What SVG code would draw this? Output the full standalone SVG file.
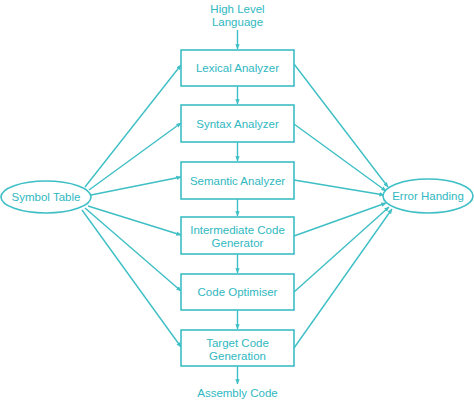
<svg xmlns="http://www.w3.org/2000/svg" width="474" height="400" viewBox="0 0 474 400">
<defs>
<style>
.box{fill:#fff;stroke:#3dbfc5;stroke-width:1.6}
.el{fill:#fff;stroke:#3dbfc5;stroke-width:1.6}
.t{font-family:"Liberation Sans",Arial,sans-serif;font-size:11.5px;fill:#2fb8bf;text-anchor:middle}
.c{stroke:#3dbfc5;stroke-width:1.4;fill:none;marker-end:url(#ah)}
</style>
<marker id="ah" viewBox="0 0 8 8" refX="7.5" refY="4" markerWidth="5" markerHeight="5" orient="auto" markerUnits="userSpaceOnUse">
<path d="M0,0.5 L8,4 L0,7.5 z" fill="#3dbfc5"/>
</marker>
</defs>
<rect width="474" height="400" fill="#fff"/>
<g id="connectors">
<line class="c" x1="237.5" y1="30" x2="237.5" y2="49"/>
<line class="c" x1="237.5" y1="86" x2="237.5" y2="104"/>
<line class="c" x1="237.5" y1="142" x2="237.5" y2="161"/>
<line class="c" x1="237.5" y1="199" x2="237.5" y2="216"/>
<line class="c" x1="237.5" y1="254" x2="237.5" y2="273"/>
<line class="c" x1="237.5" y1="310" x2="237.5" y2="329"/>
<line class="c" x1="237.5" y1="366" x2="237.5" y2="384"/>
<line class="c" x1="85" y1="187" x2="181" y2="65"/>
<line class="c" x1="89" y1="190" x2="181" y2="123"/>
<line class="c" x1="91" y1="195" x2="181" y2="177"/>
<line class="c" x1="88" y1="206" x2="181" y2="235"/>
<line class="c" x1="85" y1="208" x2="181" y2="291"/>
<line class="c" x1="82" y1="210" x2="181" y2="347"/>
<line class="c" x1="294" y1="64" x2="388" y2="187"/>
<line class="c" x1="294" y1="124" x2="386" y2="191"/>
<line class="c" x1="294" y1="180" x2="384" y2="195"/>
<line class="c" x1="294" y1="236" x2="386" y2="203"/>
<line class="c" x1="294" y1="292" x2="389" y2="207"/>
<line class="c" x1="294" y1="348" x2="392" y2="209"/>
</g>
<g id="hll"><text class="t" x="237.5" y="13">High Level</text><text class="t" x="237.5" y="26">Language</text></g>
<g id="lexical"><rect class="box" x="181" y="50" width="113" height="36"/><text class="t" x="237.5" y="72">Lexical Analyzer</text></g>
<g id="syntax"><rect class="box" x="181" y="105" width="113" height="37"/><text class="t" x="237.5" y="128">Syntax Analyzer</text></g>
<g id="semantic"><rect class="box" x="181" y="162" width="113" height="37"/><text class="t" x="237.5" y="185">Semantic Analyzer</text></g>
<g id="intermediate"><rect class="box" x="181" y="217" width="113" height="37"/><text class="t" x="237.5" y="234">Intermediate Code</text><text class="t" x="237.5" y="247">Generator</text></g>
<g id="optimiser"><rect class="box" x="181" y="274" width="113" height="36"/><text class="t" x="237.5" y="296">Code Optimiser</text></g>
<g id="target"><rect class="box" x="181" y="330" width="113" height="36"/><text class="t" x="237.5" y="347">Target Code</text><text class="t" x="237.5" y="360">Generation</text></g>
<g id="assembly"><text class="t" x="237.5" y="397">Assembly Code</text></g>
<g id="symbol"><ellipse class="el" cx="46" cy="197" rx="45" ry="16"/><text class="t" x="46" y="201">Symbol Table</text></g>
<g id="error"><ellipse class="el" cx="428" cy="196" rx="45" ry="17"/><text class="t" x="428" y="200">Error Handing</text></g>
</svg>
